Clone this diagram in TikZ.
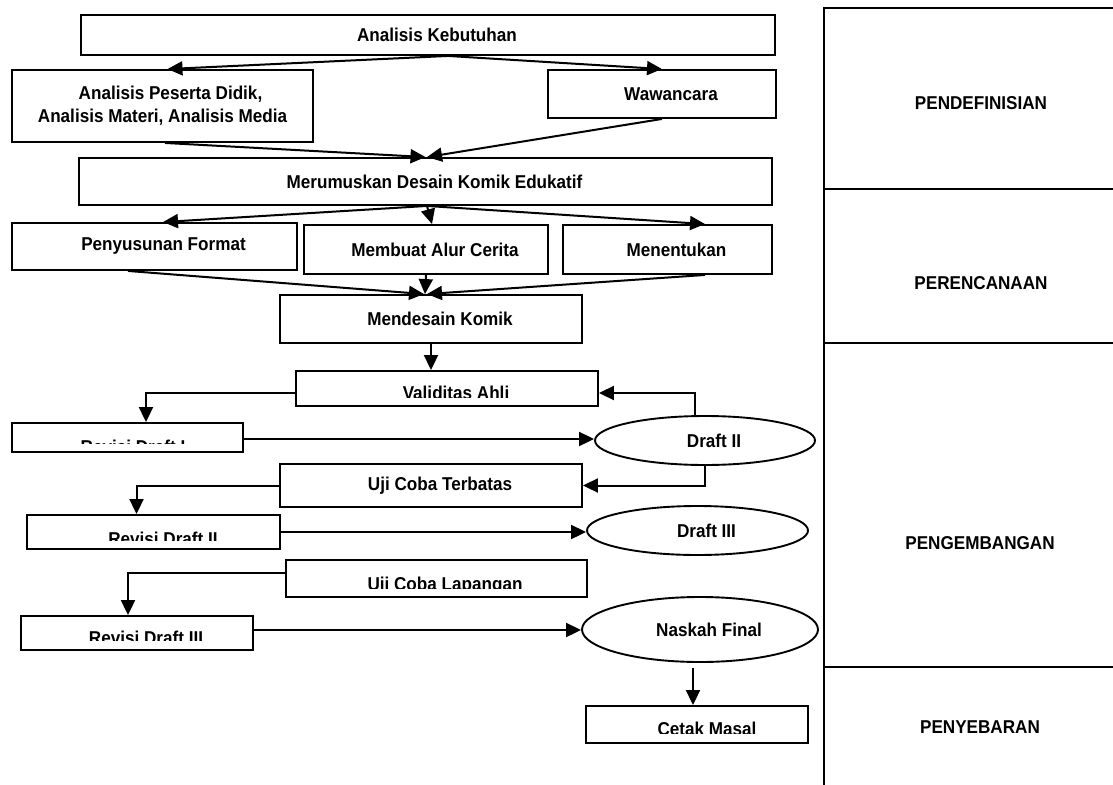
\documentclass[tikz,border=0pt]{standalone}
\usepackage{fontspec}
\setmainfont[FakeStretch=0.92]{Liberation Sans}
\usetikzlibrary{arrows.meta,shapes.geometric,calc}
\newcommand\tsh{\hspace*{18pt}}
\begin{document}
\begin{tikzpicture}[x=1pt,y=-1pt,
  every node/.style={font=\bfseries\fontsize{18.6}{23}\selectfont},
  box/.style={draw, line width=1.9pt, rectangle, inner sep=0pt},
  oval/.style={draw, line width=1.9pt, ellipse, inner sep=0pt},
  arr/.style={line width=2pt, -{Triangle[length=15pt,width=14pt]}},
  ln/.style={line width=1.9pt}]
\clip (0,0) rectangle (1113,784);
\fill[white] (0,0) rectangle (1113,784);

% main boxes
\node[box, minimum width=694pt, minimum height=40pt] (ak) at (428,35) {\tsh Analisis Kebutuhan};
\node[box, minimum width=301pt, minimum height=72pt, align=center] (ap) at (162.5,106) {\hspace*{16pt}Analisis Peserta Didik,\\Analisis Materi, Analisis Media};
\node[box, minimum width=228pt, minimum height=48pt] (ww) at (662,94) {\tsh Wawancara};
\node[box, minimum width=693pt, minimum height=47pt] (mr) at (425.5,181.5) {\tsh Merumuskan Desain Komik Edukatif};
\node[box, minimum width=285pt, minimum height=47pt] (pf) at (154.5,246.5) {\tsh Penyusunan Format};
\node[box, minimum width=244pt, minimum height=49pt] (ma) at (426,249.5) {\tsh Membuat Alur Cerita};
\node[box, minimum width=209pt, minimum height=49pt] (mn) at (667.5,249.5) {\tsh Menentukan};
\node[box, minimum width=302pt, minimum height=48pt] (mk) at (431,319) {\tsh Mendesain Komik};
\node[box, minimum width=302pt, minimum height=43pt] (ut) at (431,485.5) {\tsh Uji Coba Terbatas};

% boxes whose text is cut off at the bottom
\node[box, minimum width=302pt, minimum height=35pt] (va) at (447,388.5) {};
\begin{scope}\clip (296,371) rectangle (598,397.5);
\node[anchor=base] (vat) at (456,399.3) {Validitas Ahli};
\end{scope}
\node[box, minimum width=231pt, minimum height=29pt] (r1) at (127.5,437.5) {};
\begin{scope}\clip (12,423) rectangle (243,443.3);
\node[anchor=base] (r1t) at (133,453.3) {Revisi Draft I};
\end{scope}
\node[box, minimum width=253pt, minimum height=34pt] (r2) at (153.5,532) {};
\begin{scope}\clip (27,515) rectangle (280,540.7);
\node[anchor=base] (r2t) at (163,545.3) {Revisi Draft II};
\end{scope}
\node[box, minimum width=301pt, minimum height=37pt] (ul) at (436.5,578.5) {};
\begin{scope}\clip (286,560) rectangle (587,588);
\node[anchor=base] (ult) at (445,590.3) {Uji Coba Lapangan};
\end{scope}
\node[box, minimum width=232pt, minimum height=34pt] (r3) at (137,633) {};
\begin{scope}\clip (21,616) rectangle (253,640.5);
\node[anchor=base] (r3t) at (146,644.3) {Revisi Draft III};
\end{scope}
\node[box, minimum width=222pt, minimum height=37pt] (cm) at (697,724.5) {};
\begin{scope}\clip (586,706) rectangle (808,733);
\node[anchor=base] (cmt) at (707,735.3) {Cetak Masal};
\end{scope}

% ellipses
\node[oval, minimum width=220pt, minimum height=49pt] (d2) at (705,440.5) {\tsh Draft II};
\node[oval, minimum width=221pt, minimum height=49pt] (d3) at (697.5,530.5) {\tsh Draft III};
\node[oval, minimum width=236pt, minimum height=65pt] (nf) at (700,629.5) {\tsh Naskah Final};

% connectors
\draw[arr] ([xshift=20pt]ak.south) -- ([xshift=5pt]ap.north);
\draw[arr] ([xshift=20pt]ak.south) -- (ww.north);
\draw[arr] ([xshift=2.5pt]ap.south) -- (mr.north);
\draw[arr] (ww.south) -- ([xshift=1.5pt]mr.north);
\draw[arr] ([xshift=1.5pt]mr.south) -- ([xshift=8.5pt]pf.north);
\draw[arr] ([xshift=1.5pt]mr.south) -- ([xshift=6pt]ma.north);
\draw[arr] ([xshift=1.5pt]mr.south) -- ([xshift=37.5pt]mn.north);
\draw[arr] ([xshift=-26.5pt]pf.south) -- ([xshift=-7pt]mk.north);
\draw[arr] (ma.south) -- ([xshift=-6pt]mk.north);
\draw[arr] ([xshift=37.5pt]mn.south) -- ([xshift=-4pt]mk.north);
\draw[arr] (mk.south) -- (mk.south |- va.north);
\draw[arr] ([yshift=-4.5pt]va.west) -| ([xshift=18.5pt]r1.north);
\draw[arr] ([yshift=-1.5pt]r1.east) -- ([yshift=-1.5pt]r1.east -| d2.west);
\draw[arr] ([xshift=-10pt]d2.north) |- ([yshift=-4.5pt]va.east);
\draw[arr] (d2.south) |- (ut.east);
\draw[arr] (ut.west) -| ([xshift=-17pt]r2.north);
\draw[arr] (r2.east) -- (r2.east -| d3.west);
\draw[arr] ([yshift=5.5pt]ul.west) -| ([xshift=-9pt]r3.north);
\draw[arr] ([yshift=3pt]r3.east) -- ([yshift=3pt]r3.east -| nf.west);
\draw[arr] ([xshift=-7pt,yshift=-5pt]nf.south) -- ([xshift=-4pt]cm.north);

% phase column
\draw[ln] (1120,8) -- (824,8) -- (824,790);
\draw[ln] (824,189) -- (1120,189);
\draw[ln] (824,343) -- (1120,343);
\draw[ln] (824,667) -- (1120,667);
\node (p1) at (981,103) {PENDEFINISIAN};
\node (p2) at (981,283) {PERENCANAAN};
\node (p3) at (980,543) {PENGEMBANGAN};
\node (p4) at (980,727) {PENYEBARAN};
\end{tikzpicture}
\end{document}
